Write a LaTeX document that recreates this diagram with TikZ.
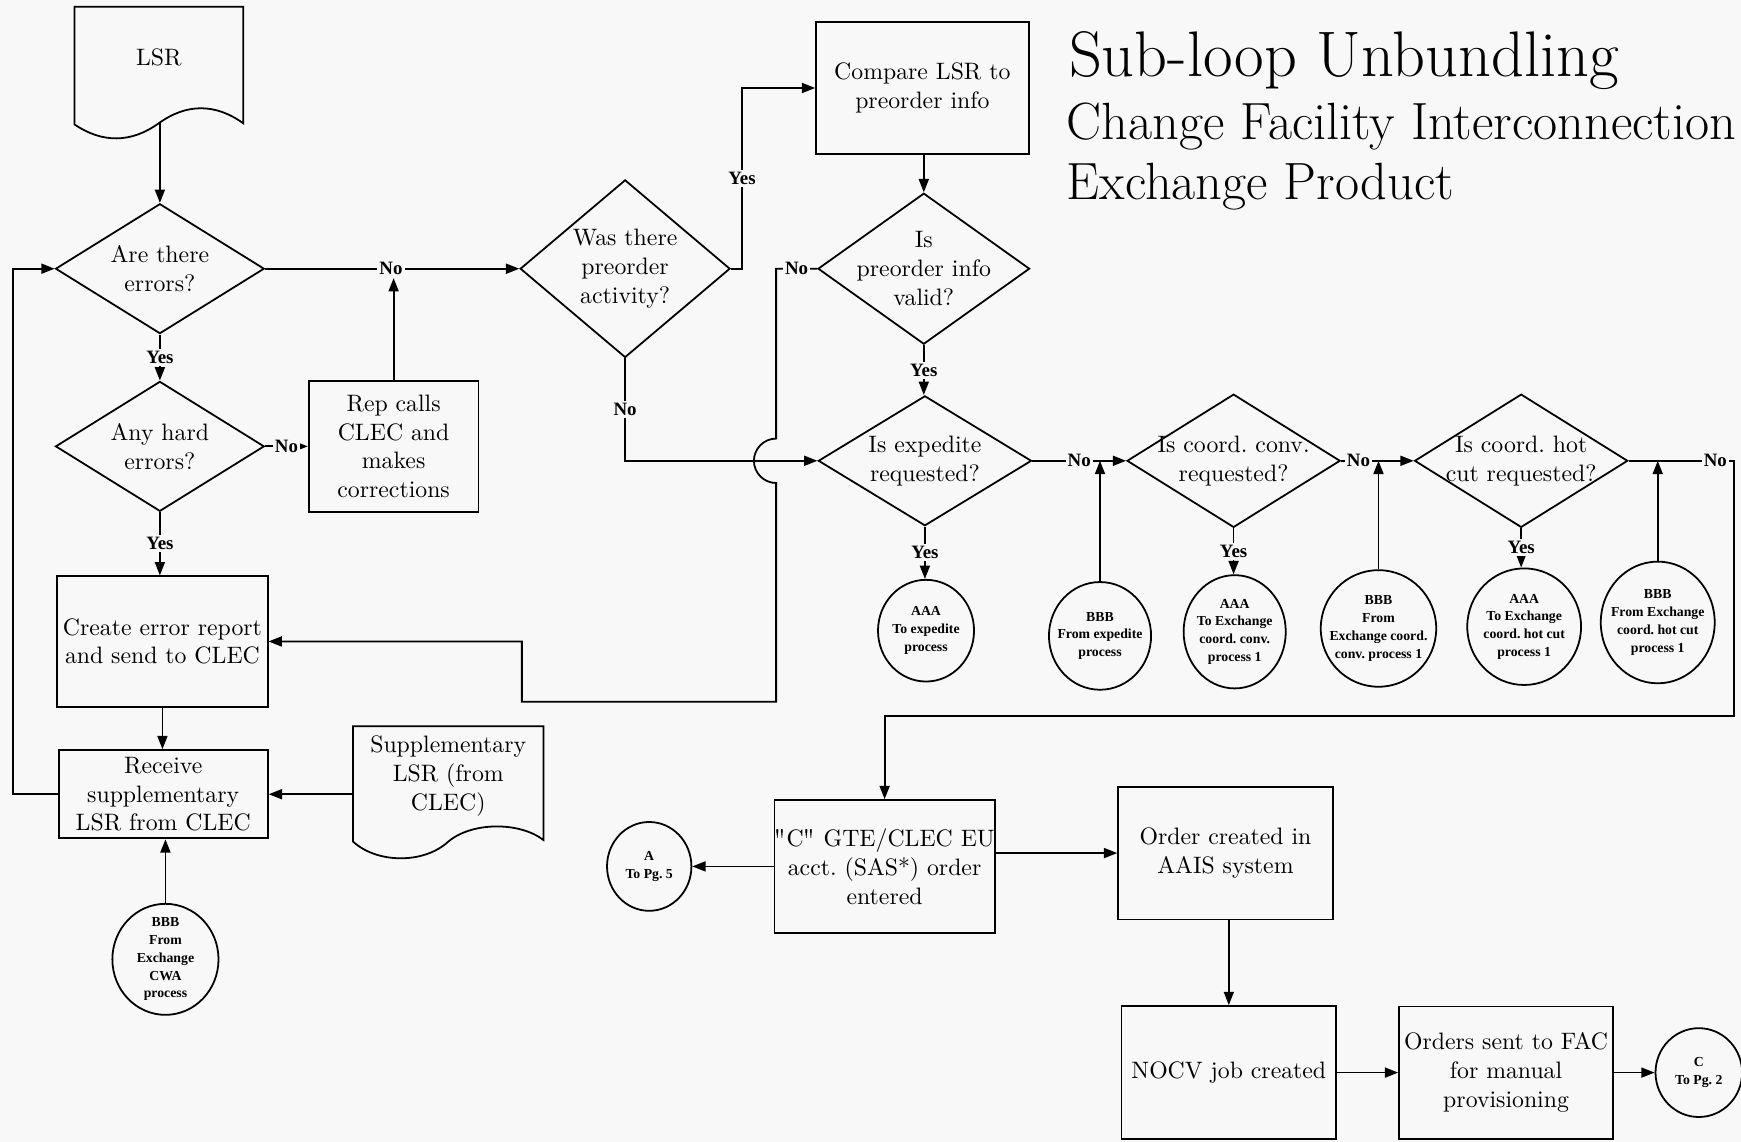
\documentclass[tikz,border=0pt]{standalone}
\usepackage{fontspec}
\newfontfamily\labfont{Liberation Serif}
\usetikzlibrary{arrows.meta,shapes.geometric,calc}
\definecolor{bgc}{RGB}{248,248,248}
\newcommand\myBody{\fontsize{10.7}{13}\selectfont}
\newcommand\mySmall{\labfont\bfseries\fontsize{6.2}{8}\selectfont}
\newcommand\myLbl{\labfont\bfseries\fontsize{8.5}{10}\selectfont}
\newcommand\myTitleA{\fontsize{29}{30}\selectfont}
\newcommand\myTitleB{\fontsize{23.6}{28}\selectfont}
\newcommand\sq{{\fontencoding{T1}\fontfamily{lmr}\selectfont\char34}}
\begin{document}
\begin{tikzpicture}[x=0.5pt,y=-0.5pt, line width=0.8pt,
 arr/.style={-{Triangle[length=6pt,width=4.5pt]}},
 box/.style={draw, rectangle, inner sep=0pt, align=center, font=\myBody},
 dia/.style={draw, diamond, inner sep=0pt},
 dtext/.style={align=center, font=\myBody},
 circ/.style={draw, ellipse, inner sep=0pt},
 ctext/.style={align=center, font=\mySmall},
 lbl/.style={fill=bgc, inner sep=1pt, font=\myLbl},
 txt/.style={align=center, font=\myBody, inner sep=0pt},
 ttl/.style={anchor=base west, inner sep=0pt}]
\useasboundingbox (0,0) rectangle (1568,1028.5);
\fill[bgc] (0,0) rectangle (1568,1028.5);

% title
\node[ttl, font=\myTitleA] (t1) at (962,69) {Sub-loop Unbundling};
\node[ttl, font=\myTitleB] (t2) at (960,126) {Change Facility Interconnection};
\node[ttl, font=\myTitleB] (t3) at (960,180) {Exchange Product};

% documents
\draw (67,6) -- (219,6) -- (219,111) .. controls (194,93) and (168,93) .. (143,111)
  .. controls (118,129) and (92,129) .. (67,112) -- cycle;
\node[txt, minimum width=76pt] (lsr) at (143,52) {LSR};
\coordinate (lsrb) at (144,111);
\draw (318,654) -- (489.4,654) -- (489.4,756.5) .. controls (468,740) and (425,740) .. (403.7,758)
  .. controls (382,778) and (340,778) .. (318,758) -- cycle;
\node[txt, minimum width=85.7pt] (supp) at (403.7,699) {Supplementary\\LSR (from\\CLEC)};

% left column
\node[dia, minimum width=94pt, minimum height=58.5pt, label={[dtext]center:{Are there\\errors?}}] (A) at (144,242) {};
\node[dia, minimum width=94pt, minimum height=58.5pt, label={[dtext]center:{Any hard\\errors?}}] (H) at (144,402) {};
\node[box, minimum width=76.5pt, minimum height=59pt] (rep) at (354.5,402) {Rep calls\\CLEC and\\makes\\corrections};
\node[box, minimum width=94.75pt, minimum height=58.7pt] (create) at (146.3,577.7) {Create error report\\and send to CLEC};
\node[box, minimum width=94.2pt, minimum height=39.75pt] (recv) at (147,715.3) {Receive\\supplementary\\LSR from CLEC};
\node[circ, minimum width=47.8pt, minimum height=50pt, label={[ctext]center:{BBB\\From\\Exchange\\CWA\\process}}] (bbbL) at (149,864) {};

% middle
\node[dia, minimum width=94.5pt, minimum height=80pt, label={[dtext]center:{Was there\\preorder\\activity?}}] (B) at (563,242) {};
\node[box, minimum width=95.7pt, minimum height=59.25pt] (compare) at (830.7,79.25) {Compare LSR to\\preorder info};
\node[dia, minimum width=95.3pt, minimum height=68pt, label={[dtext]center:{Is\\preorder info\\valid?}}] (C) at (832,242) {};
\node[dia, minimum width=96pt, minimum height=58.5pt, label={[dtext]center:{Is expedite\\requested?}}] (D) at (833,415) {};
\node[dia, minimum width=96pt, minimum height=60pt, label={[dtext]center:{Is coord.\ conv.\\requested?}}] (E) at (1111,415) {};
\node[dia, minimum width=96pt, minimum height=60pt, label={[dtext]center:{Is coord.\ hot\\cut requested?}}] (F) at (1370,415) {};

% connector circles
\node[circ, minimum width=43.25pt, minimum height=45.8pt, label={[ctext]center:{AAA\\To expedite\\process}}] (aaa1) at (834,568) {};
\node[circ, minimum width=46pt, minimum height=48.5pt, label={[ctext]center:{BBB\\From expedite\\process}}] (bbb1) at (990.7,572.7) {};
\node[circ, minimum width=46pt, minimum height=51pt, label={[ctext]center:{AAA\\To Exchange\\coord.\ conv.\\process 1}}] (aaa2) at (1112,569) {};
\node[circ, minimum width=52pt, minimum height=52.5pt, label={[ctext]center:{BBB\\From\\Exchange coord.\\conv.\ process 1}}] (bbb2) at (1241.5,566) {};
\node[circ, minimum width=51.25pt, minimum height=52.5pt, label={[ctext]center:{AAA\\To Exchange\\coord.\ hot cut\\process 1}}] (aaa3) at (1372.7,564.4) {};
\node[circ, minimum width=51.3pt, minimum height=54.8pt, label={[ctext]center:{BBB\\From Exchange\\coord.\ hot cut\\process 1}}] (bbb3) at (1493,560.6) {};

% bottom
\node[box, minimum width=95.65pt, minimum height=59.75pt] (cbox) at (796.7,780.3) {\sq C\sq{} GTE/CLEC EU\\acct.\ (SAS*) order\\entered};
\node[circ, minimum width=38pt, minimum height=40pt, label={[ctext]center:{A\\To Pg.\ 5}}] (acirc) at (584.7,780.3) {};
\node[box, minimum width=96.65pt, minimum height=59.75pt] (aais) at (1103.7,768.3) {Order created in\\AAIS system};
\node[box, minimum width=96.65pt, minimum height=60pt] (nocv) at (1106.7,966) {NOCV job created};
\node[box, minimum width=96.35pt, minimum height=59.6pt] (fac) at (1356.4,966) {Orders sent to FAC\\for manual\\provisioning};
\node[circ, minimum width=39pt, minimum height=40pt, label={[ctext]center:{C\\To Pg.\ 2}}] (ccirc) at (1530,966) {};

% connectors: left
\draw[arr] (lsrb) -- (A.north);
\draw[arr] (A.east) -- node[lbl,pos=0.495] (noA) {No} (B.west);
\draw[arr] (rep.north) -- (rep.north |- noA.south);
\draw[arr] (A.south) -- node[lbl] {Yes} (A.south |- H.north);
\draw[arr] (H.east) -- node[lbl] {No} (rep.west);
\draw[arr] (H.south) -- node[lbl] {Yes} (H.south |- create.north);
\draw[arr] (create.south) -- (create.south |- recv.north);
\draw[arr] (recv.west) -- ++(-40,0) |- (A.west);
\draw[arr] (supp.west |- recv.east) -- (recv.east);
\draw[arr] (bbbL.north) -- (bbbL.north |- recv.south);

% connectors: middle
\draw[arr] (B.east) -- ++(10,0) |- node[lbl,pos=0.25] {Yes} (compare.west);
\draw[arr] (B.south) |- node[lbl,pos=0.25] {No} (D.west);
\draw[arr] (compare.south -| C.north) -- (C.north);
\coordinate (jx) at (699,632);
\coordinate (jy) at (470,632);
\draw[arr] (C.west) -- node[lbl] {No} (C.west -| jx) -- ($(jx |- D.west)+(0,-20)$)
  .. controls +(-11,0) and +(0,-11) .. ++(-20,20)
  .. controls +(0,11) and +(-11,0) .. ++(20,20) -- (jx) -- (jy) |- (create.east);
\draw[arr] (C.south) -- node[lbl] {Yes} (C.south |- D.north);

% connectors: decision row
\draw[arr] (D.east) -- node[lbl] {No} (E.west);
\draw[arr] (bbb1.north) -- (bbb1.north |- D.east);
\draw[arr] (D.south) -- node[lbl] {Yes} (D.south |- aaa1.north);
\draw[arr] (E.east) -- node[lbl,pos=0.24] {No} (F.west);
\draw[arr] (bbb2.north) -- (bbb2.north |- E.east);
\draw[arr] (E.south) -- node[lbl] {Yes} (E.south |- aaa2.north);
\draw[arr] (F.south) -- node[lbl] {Yes} (F.south |- aaa3.north);
\coordinate (rx) at (1562,645);
\draw[arr] (F.east) -- node[lbl,pos=0.82] {No} (F.east -| rx) -- (rx) -| (cbox.north);
\draw[arr] (bbb3.north) -- (bbb3.north |- F.east);

% connectors: bottom
\draw[arr] (cbox.west) -- (acirc.east);
\draw[arr] (cbox.east |- aais.west) -- (aais.west);
\draw[arr] (nocv.north |- aais.south) -- (nocv.north);
\draw[arr] (nocv.east) -- (fac.west);
\draw[arr] (fac.east) -- (ccirc.west);
\end{tikzpicture}
\end{document}
